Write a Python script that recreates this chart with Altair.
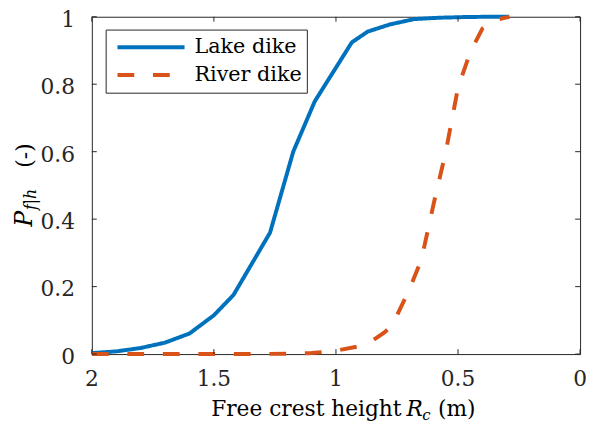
import altair as alt
import pandas as pd

series = ["Lake dike", "River dike"]
colors = ["#0072BD", "#D95319"]

lake_x = [2.0, 1.9, 1.8, 1.7, 1.6, 1.5, 1.42, 1.27, 1.175, 1.087, 0.935, 0.87, 0.78, 0.68, 0.58, 0.48, 0.38, 0.29]
lake_y = [0.003, 0.008, 0.018, 0.034, 0.061, 0.115, 0.175, 0.36, 0.6, 0.749, 0.924, 0.956, 0.977, 0.993, 0.997, 0.999, 1.0, 1.0]

river_x = [2.0, 1.8, 1.6, 1.4, 1.2, 1.1, 1.0, 0.9, 0.85, 0.8, 0.77, 0.7, 0.65, 0.6, 0.55, 0.5, 0.45, 0.4, 0.35, 0.3, 0.29]
river_y = [0.0, 0.0, 0.0, 0.0, 0.001, 0.003, 0.01, 0.024, 0.04, 0.065, 0.085, 0.19, 0.28, 0.445, 0.6, 0.79, 0.895, 0.965, 0.99, 0.998, 1.0]

x_ticks = [2, 1.5, 1, 0.5, 0]
x_labels = ["2", "1.5", "1", "0.5", "0"]
y_ticks = [0, 0.2, 0.4, 0.6, 0.8, 1]
y_labels = ["0", "0.2", "0.4", "0.6", "0.8", "1"]

FONT = "DejaVu Serif"
AX = "#262626"
W, H = 495, 342
TL = 5

rows = []
for xv, yv in zip(lake_x, lake_y):
    rows.append({"Rc": xv, "P": yv, "series": series[0], "o": len(rows)})
for xv, yv in zip(river_x, river_y):
    rows.append({"Rc": xv, "P": yv, "series": series[1], "o": len(rows)})
df = pd.DataFrame(rows)

xscale = alt.Scale(domain=[0, 2], reverse=True, nice=False, zero=False)
yscale = alt.Scale(domain=[0, 1], nice=False)

lines = alt.Chart(df).mark_line(strokeWidth=4, strokeCap="butt").encode(
    x=alt.X("Rc:Q", scale=xscale, axis=None),
    y=alt.Y("P:Q", scale=yscale, axis=None),
    order="o:Q",
    color=alt.Color("series:N", scale=alt.Scale(domain=series, range=colors),
                    legend=alt.Legend(orient="none", legendX=14, legendY=13, title=None,
                                      strokeColor=AX, fillColor="white", padding=5,
                                      symbolType="stroke", symbolSize=4624, symbolStrokeWidth=4,
                                      labelFont=FONT, labelFontSize=21, labelColor="black",
                                      clipHeight=26, rowPadding=2, symbolOffset=5,
                                      labelOffset=8, labelLimit=0)),
    strokeDash=alt.StrokeDash("series:N", scale=alt.Scale(domain=series, range=[[1, 0], [17, 19]]),
                              legend=None),
)

xt = pd.DataFrame({"t": x_ticks, "lbl": x_labels})
yt = pd.DataFrame({"t": y_ticks, "lbl": y_labels})
tick_x_bottom = alt.Chart(xt).mark_rule(color=AX, strokeWidth=1).encode(
    x=alt.X("t:Q", scale=xscale, axis=None), y=alt.value(H), y2=alt.value(H - TL))
tick_x_top = alt.Chart(xt).mark_rule(color=AX, strokeWidth=1).encode(
    x=alt.X("t:Q", scale=xscale, axis=None), y=alt.value(0), y2=alt.value(TL))
tick_y_left = alt.Chart(yt).mark_rule(color=AX, strokeWidth=1).encode(
    y=alt.Y("t:Q", scale=yscale, axis=None), x=alt.value(0), x2=alt.value(TL))
tick_y_right = alt.Chart(yt).mark_rule(color=AX, strokeWidth=1).encode(
    y=alt.Y("t:Q", scale=yscale, axis=None), x=alt.value(W), x2=alt.value(W - TL))

x_tick_labels = alt.Chart(xt).mark_text(font=FONT, fontSize=22, color=AX, align="center",
                                        baseline="alphabetic").encode(
    x=alt.X("t:Q", scale=xscale, axis=None), y=alt.value(H + 32), text="lbl:N")
y_tick_labels = alt.Chart(yt).mark_text(font=FONT, fontSize=22, color=AX, align="right",
                                        baseline="alphabetic", dy=10).encode(
    y=alt.Y("t:Q", scale=yscale, axis=None), x=alt.value(-17), text="lbl:N")

one = alt.Data(values=[{"a": 1}])


def txt(s, x, y, size=22, italic=False, angle=0):
    kw = dict(text=s, font=FONT, fontSize=size, color="black", align="left", baseline="alphabetic")
    if italic:
        kw["fontStyle"] = "italic"
    if angle:
        kw["angle"] = angle
    return alt.Chart(one).mark_text(**kw).encode(x=alt.value(x), y=alt.value(y))


title_parts = [
    txt("Free crest height", 121, 405),
    txt("R", 319, 405, italic=True),
    txt("c", 335, 409, size=15, italic=True),
    txt("(m)", 351, 405),
    txt("P", -61, 213, size=24, italic=True, angle=270),
    txt("f|h", -57, 196, size=16, italic=True, angle=270),
    txt("(-)", -61, 153, angle=270),
]

chart = alt.layer(
    lines, tick_x_bottom, tick_x_top, tick_y_left, tick_y_right,
    x_tick_labels, y_tick_labels, *title_parts
).properties(
    width=W, height=H,
    padding={"left": 85, "top": 6, "right": 6, "bottom": 67},
    autosize=alt.AutoSizeParams(type="none"),
).configure(background="white"
).configure_view(stroke=AX, strokeWidth=1)

chart.save("out.html", embed_options={"renderer": "svg", "actions": False})
